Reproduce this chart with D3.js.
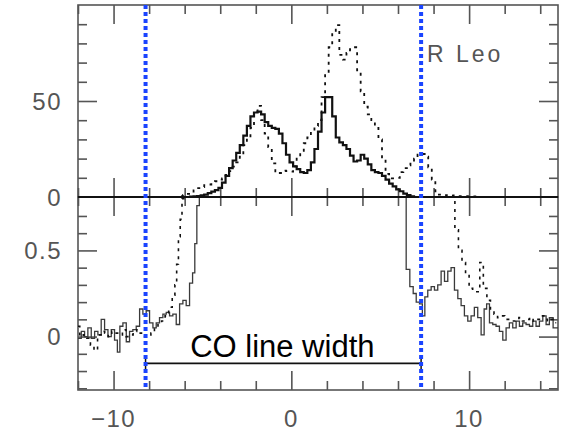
<!DOCTYPE html>
<html>
<head>
<meta charset="utf-8">
<script src="https://cdn.jsdelivr.net/npm/d3@7"></script>
<style>
body { margin: 0; background: #fff; }
svg text { font-family: "Liberation Sans", Arial, sans-serif; }
</style>
</head>
<body>
<div id="graph"></div>
<script>

// top panel, thick solid profile (velocity km/s, value)
var topSolidV = [-6.0, -5.8, -5.6, -5.4, -5.2, -5.0, -4.8, -4.6, -4.4, -4.2, -4.0, -3.8, -3.6, -3.4, -3.2, -3.0,
    -2.8, -2.6, -2.4, -2.2, -2.0, -1.8, -1.6, -1.4, -1.2, -1.0, -0.8, -0.6, -0.4, -0.2, 0.0, 0.2, 0.4, 0.6, 0.8,
    1.0, 1.2, 1.4, 1.6, 1.8, 2.0, 2.2, 2.4, 2.6, 2.8, 3.0, 3.2, 3.4, 3.6, 3.8, 4.0, 4.2, 4.4, 4.6, 4.8, 5.0,
    5.2, 5.4, 5.6, 5.8, 6.0, 6.2, 6.4, 6.6, 6.8, 7.0];
var topSolidT = [0, 0, 0.2, 0.3, 0.5, 0.8, 1.2, 2.0, 2.8, 3.6, 4.8, 7.5, 11, 15, 19, 23,
    27, 32, 37, 42, 44, 44.5, 43, 39, 37, 36, 35.5, 33, 28, 22, 18, 16, 14.5, 13, 12.5,
    14, 18, 25, 34, 44, 52, 52, 42, 31, 28.5, 27, 25, 21.5, 18.5, 19, 22, 20, 17, 14, 13, 12.5,
    11, 9, 7, 5.5, 4, 3, 1.8, 1, 0.4, 0];

// top panel, dotted profile
var topDotV = [-6.2, -6.0, -5.8, -5.6, -5.4, -5.2, -5.0, -4.8, -4.6, -4.4, -4.2, -4.0, -3.8, -3.6, -3.4, -3.2,
    -3.0, -2.8, -2.6, -2.4, -2.2, -2.0, -1.8, -1.6, -1.4, -1.2, -1.0, -0.8, -0.6, -0.4, -0.2, 0.0, 0.2, 0.4,
    0.6, 0.8, 1.0, 1.2, 1.4, 1.6, 1.8, 2.0, 2.2, 2.4, 2.6, 2.8, 3.0, 3.2, 3.4, 3.6, 3.8, 4.0, 4.2, 4.4, 4.6,
    4.8, 5.0, 5.2, 5.4, 5.6, 5.8, 6.0, 6.2, 6.4, 6.6, 6.8, 7.0, 7.2, 7.4, 7.6, 7.8, 8.0, 8.2, 8.4, 8.6, 8.8,
    9.0, 9.2, 9.4, 9.6, 9.8, 10.0, 10.4];
var topDotT = [0.5, 1.0, 1.6, 2.3, 3.5, 4.6, 5.2, 6.2, 6.5, 7.5, 8.2, 9.0, 9.7, 11.5, 13.5, 15.8,
    18, 21, 27, 31, 36, 43, 47.5, 40, 33, 26, 17.5, 12.3, 12.5, 13.7, 13.5, 13.2, 16, 21,
    24, 28, 31, 34, 37, 40, 52, 64, 78, 86, 89.5, 74, 71.5, 75, 77, 78, 66, 55, 47, 43, 40,
    36, 30, 20, 12, 9.7, 9.7, 10, 13, 15, 16.5, 18, 20, 22, 22.4, 21, 15.5, 9, 3, 1.2, 0.8, 1.0,
    0.6, 0.8, 0.4, 0.5, 0.3, 0.5, 0.3];

// bottom panel, thin solid profile (normalised)
var botSolidV = [-12.0, -11.91, -11.72, -11.54, -11.35, -11.16, -10.97, -10.79, -10.60, -10.41, -10.22, -10.04,
    -9.85, -9.72, -9.57, -9.38, -9.19, -9.01, -8.82, -8.63, -8.44, -8.26, -8.07, -7.88, -7.69, -7.51,
    -7.32, -7.13, -6.94, -6.76, -6.57, -6.38, -6.19, -6.01, -5.82, -5.63, -5.48, -5.38, -5.25, -5.10,
    6.37, 6.55, 6.78, 6.93, 7.12, 7.30, 7.44, 7.58, 7.77, 7.96, 8.14, 8.33, 8.52, 8.71, 8.89, 9.08,
    9.27, 9.46, 9.64, 9.83, 10.02, 10.20, 10.39, 10.58, 10.77, 10.92, 11.05, 11.24, 11.42, 11.61,
    11.80, 11.99, 12.17, 12.36, 12.55, 12.74, 12.92, 13.11, 13.30, 13.49, 13.67, 13.86, 14.05, 14.24,
    14.42, 14.61, 14.84, 15.0];
var botSolidT = [-0.01, -0.01, 0.03, 0.0, 0.05, -0.01, 0.03, 0.01, 0.10, 0.04, 0.0, 0.04,
    -0.02, -0.09, 0.06, 0.08, -0.03, 0.03, 0.04, 0.06, 0.16, 0.13, 0.15, 0.08, 0.05, 0.08,
    0.11, 0.13, 0.14, 0.12, 0.13, 0.07, 0.19, 0.21, 0.18, 0.31, 0.37, 0.54, 0.76, 1.0,
    1.0, 0.39, 0.29, 0.25, 0.20, 0.19, 0.12, 0.23, 0.27, 0.29, 0.27, 0.30, 0.38, 0.32, 0.38, 0.40,
    0.27, 0.22, 0.18, 0.12, 0.09, 0.12, 0.17, 0.11, 0.01, 0.16, 0.19, 0.08, 0.07, 0.06,
    0.03, -0.02, 0.05, 0.08, 0.05, 0.09, 0.06, 0.08, 0.07, 0.06, 0.09, 0.06, 0.09, 0.12,
    0.07, 0.11, 0.05, 0.05];

// bottom panel, dotted profile (normalised)
var botDotV = [-12.0, -11.8, -11.6, -11.4, -11.2, -11.0, -10.8, -10.6, -10.4, -10.2, -10.0, -9.8, -9.6,
    -9.4, -9.2, -9.0, -8.8, -8.6, -8.4, -8.2, -8.0, -7.8, -7.6, -7.4, -7.2, -7.0, -6.8, -6.6, -6.5,
    -6.4, -6.3, -6.2, -6.1, -6.0, 9.1, 9.3, 9.5, 9.7, 9.9, 10.1, 10.3, 10.5, 10.7, 10.9, 11.1, 11.3,
    11.5, 11.7, 11.9, 12.1, 12.3, 12.5, 12.7, 12.9, 13.1, 13.3, 13.5, 13.7, 13.9, 14.1, 14.3, 14.5,
    14.7, 14.9];
var botDotT = [0.06, 0.0, 0.01, -0.01, -0.05, -0.08, 0.01, 0.03, 0.02, 0.0, 0.03, 0.02, 0.01,
    0.04, 0.0, 0.01, 0.03, 0.04, 0.02, 0.0, 0.01, 0.02, 0.05, 0.08, 0.09, 0.12, 0.17, 0.24, 0.30,
    0.42, 0.58, 0.68, 0.80, 1.0, 1.0, 0.62, 0.50, 0.43, 0.36, 0.28, 0.26, 0.26, 0.43, 0.28, 0.21, 0.15,
    0.13, 0.11, 0.12, 0.10, 0.10, 0.09, 0.10, 0.11, 0.09, 0.10, 0.11, 0.09, 0.10, 0.12, 0.10, 0.09,
    0.10, 0.08];

// CO line width limits (km/s) and bar level
var coLimits = [-8.2, 7.3];
var coBarLevel = -0.155;

// axis ranges and tick labels
var xDomain = [-12, 15];
var topDomain = [0, 100];
var botDomain = [-0.31, 0.81];
var xLabels = [-10, 0, 10];
var topLabels = [0, 50];
var botLabels = [0, 0.5];

function toPoints(vs, ts) {
    return vs.map(function (v, i) { return [v, ts[i]]; });
}

function drawGraph() {
    var W = 564, H = 431;
    var left = 78, right = 558, top = 5, mid = 197, bottom = 390;
    var frameColor = "#555", textColor = "#555";

    var svG = d3.select("#graph")
        .append("svg")
        .attr("width", W)
        .attr("height", H);

    var x = d3.scaleLinear().domain(xDomain).range([left, right]);
    var yTop = d3.scaleLinear().domain(topDomain).range([mid, top]);
    var yBot = d3.scaleLinear().domain(botDomain).range([bottom, mid]);

    // clip regions for each panel
    var defs = svG.append("defs");
    defs.append("clipPath").attr("id", "clipTop").append("rect")
        .attr("x", left).attr("y", top).attr("width", right - left).attr("height", mid - top);
    defs.append("clipPath").attr("id", "clipBot").append("rect")
        .attr("x", left).attr("y", mid).attr("width", right - left).attr("height", bottom - mid);

    // ticks: major and minor, mirrored on all sides
    var xMinor = d3.range(-12, 16, 2).filter(d => xLabels.indexOf(d) < 0);
    var topMinor = d3.range(10, 100, 10).filter(d => d != 50);
    var botMinor = [-0.3, -0.2, -0.1, 0.1, 0.2, 0.3, 0.4, 0.6, 0.7, 0.8];

    function ticks(axis, tx, ty, values, size) {
        var g = svG.append("g")
            .attr("transform", "translate(" + tx + "," + ty + ")")
            .call(axis.tickValues(values).tickSize(size).tickFormat(""));
        g.select(".domain").remove();
        g.selectAll("line").attr("stroke", frameColor).attr("stroke-width", 1.6);
    }
    [[xLabels, 19], [xMinor, 9]].forEach(function (t) {
        ticks(d3.axisBottom(x), 0, top, t[0], t[1]);
        ticks(d3.axisTop(x), 0, mid, t[0], t[1]);
        ticks(d3.axisBottom(x), 0, mid, t[0], t[1]);
        ticks(d3.axisTop(x), 0, bottom, t[0], t[1]);
    });
    [[[50], 19], [topMinor, 9]].forEach(function (t) {
        ticks(d3.axisRight(yTop), left, 0, t[0], t[1]);
        ticks(d3.axisLeft(yTop), right, 0, t[0], t[1]);
    });
    [[botLabels, 19], [botMinor.filter(d => d < 0.79), 9]].forEach(function (t) {
        ticks(d3.axisRight(yBot), left, 0, t[0], t[1]);
        ticks(d3.axisLeft(yBot), right, 0, t[0], t[1]);
    });

    // frames
    [[top, mid], [mid, bottom]].forEach(function (p) {
        svG.append("rect")
            .attr("x", left).attr("y", p[0])
            .attr("width", right - left).attr("height", p[1] - p[0])
            .attr("fill", "none")
            .attr("stroke", frameColor)
            .attr("stroke-width", 1.6);
    });

    // profiles
    var lineTop = d3.line().x(d => x(d[0])).y(d => yTop(d[1])).curve(d3.curveStep);
    var lineBot = d3.line().x(d => x(d[0])).y(d => yBot(d[1])).curve(d3.curveStep);

    var gBot = svG.append("g").attr("clip-path", "url(#clipBot)");
    gBot.append("path")
        .attr("d", lineBot(toPoints(botSolidV, botSolidT)))
        .attr("fill", "none")
        .attr("stroke", "#3a3a3a")
        .attr("stroke-width", 1.3);
    gBot.append("path")
        .attr("d", lineBot(toPoints(botDotV, botDotT)))
        .attr("fill", "none")
        .attr("stroke", "#111")
        .attr("stroke-width", 1.6)
        .attr("stroke-dasharray", "3,5");

    var gTop = svG.append("g").attr("clip-path", "url(#clipTop)");
    gTop.append("path")
        .attr("d", lineTop(toPoints(topDotV, topDotT)))
        .attr("fill", "none")
        .attr("stroke", "#111")
        .attr("stroke-width", 1.8)
        .attr("stroke-dasharray", "3,5");
    gTop.append("path")
        .attr("d", lineTop(toPoints(topSolidV, topSolidT)))
        .attr("fill", "none")
        .attr("stroke", "#111")
        .attr("stroke-width", 2.2);

    // zero line of the top panel
    svG.append("line")
        .attr("x1", left).attr("x2", right)
        .attr("y1", yTop(0)).attr("y2", yTop(0))
        .attr("stroke", "#111")
        .attr("stroke-width", 2);

    // CO line width bar
    var yb = yBot(coBarLevel);
    svG.append("line")
        .attr("x1", x(coLimits[0])).attr("x2", x(coLimits[1]))
        .attr("y1", yb).attr("y2", yb)
        .attr("stroke", "#111")
        .attr("stroke-width", 1.8);
    coLimits.forEach(function (v) {
        svG.append("line")
            .attr("x1", x(v)).attr("x2", x(v))
            .attr("y1", yb - 8).attr("y2", yb + 8)
            .attr("stroke", "#111")
            .attr("stroke-width", 1.5);
    });

    // blue dotted markers
    coLimits.forEach(function (v) {
        svG.append("line")
            .attr("x1", x(v)).attr("x2", x(v))
            .attr("y1", top).attr("y2", bottom - 3)
            .attr("stroke", "#1a44ff")
            .attr("stroke-width", 4)
            .attr("stroke-dasharray", "4,3");
    });

    svG.append("text")
        .attr("x", (x(coLimits[0]) + x(coLimits[1])) / 2 - 1)
        .attr("y", yb - 6)
        .attr("text-anchor", "middle")
        .attr("font-size", 31)
        .attr("fill", "#000")
        .text("CO line width");

    svG.append("text")
        .attr("x", 427)
        .attr("y", 62)
        .attr("font-size", 23)
        .attr("letter-spacing", 3)
        .attr("fill", textColor)
        .text("R Leo");

    // tick labels
    var fmt = d3.format("");
    svG.selectAll(".xl")
        .data(xLabels)
        .enter()
        .append("text")
        .attr("x", d => x(d))
        .attr("y", 427)
        .attr("text-anchor", "middle")
        .attr("font-size", 24)
        .attr("letter-spacing", 1.5)
        .attr("fill", textColor)
        .text(d => fmt(d));
    svG.selectAll(".yt")
        .data(topLabels)
        .enter()
        .append("text")
        .attr("x", 62)
        .attr("y", d => yTop(d) + 8.5)
        .attr("text-anchor", "end")
        .attr("font-size", 24)
        .attr("letter-spacing", 1.5)
        .attr("fill", textColor)
        .text(d => fmt(d));
    svG.selectAll(".yb")
        .data(botLabels)
        .enter()
        .append("text")
        .attr("x", 62)
        .attr("y", d => yBot(d) + 8.5)
        .attr("text-anchor", "end")
        .attr("font-size", 24)
        .attr("letter-spacing", 1.5)
        .attr("fill", textColor)
        .text(d => fmt(d));
}

drawGraph();
</script>
</body>
</html>
